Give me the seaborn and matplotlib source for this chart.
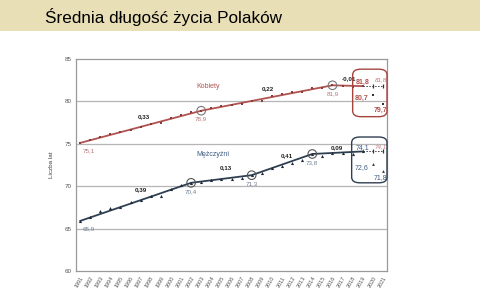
import matplotlib
matplotlib.use("Agg")
import matplotlib.pyplot as plt
import seaborn as sns
import pandas as pd
from matplotlib.patches import FancyBboxPatch, Rectangle

sns.set_style("white")
plt.rcParams['font.family'] = ['Liberation Sans', 'DejaVu Sans']

title = "Średnia długość życia Polaków"
years = list(range(1991, 2020))
women = [75.1, 75.4, 75.8, 76.1, 76.4, 76.6, 77.0, 77.3, 77.5, 78.0, 78.4, 78.8, 78.9,
         79.2, 79.4, 79.6, 79.7, 80.0, 80.1, 80.6, 80.9, 81.1, 81.1, 81.6, 81.6, 81.9,
         81.8, 81.7, 81.8]
men = [65.9, 66.4, 67.1, 67.4, 67.6, 68.1, 68.4, 68.8, 68.8, 69.7, 70.2, 70.4, 70.5,
       70.7, 70.8, 70.9, 71.0, 71.3, 71.5, 72.1, 72.4, 72.7, 73.1, 73.8, 73.6, 73.9,
       73.9, 73.8, 74.1]
women_key_years = [1991, 2003, 2016, 2019]
women_key_vals = [75.1, 78.9, 81.9, 81.8]
men_key_years = [1991, 2002, 2008, 2014, 2019]
men_key_vals = [65.9, 70.4, 71.3, 73.8, 74.1]
women_trend = ["0,33", "0,22", "-0,01"]
men_trend = ["0,39", "0,13", "0,41", "0,09"]
proj_years = [2020, 2021]
women_proj = [80.7, 79.7]
men_proj = [72.6, 71.8]
women_base = 81.8
men_base = 74.1
xticks = list(range(1991, 2022))
yticks = [60, 65, 70, 75, 80, 85]

wc = "#b0524f"
mc = "#2f3f52"
wl = "#b87472"
ml = "#6f7f92"

fig = plt.figure(figsize=(4.8, 3.0), dpi=100)
fig.patches.append(Rectangle((0, 1 - 31/300), 1, 31/300, transform=fig.transFigure,
                             facecolor="#e8dfb6", edgecolor="none", zorder=0))
fig.text(45/480, 1 - 17/300, title, fontsize=12.3, color="black", va="center", ha="left")

ax = fig.add_axes([76/480, 1 - 271/300, 311/480, 212/300])

dfw = pd.DataFrame({"year": years, "val": women})
dfm = pd.DataFrame({"year": years, "val": men})
dkw = pd.DataFrame({"year": women_key_years, "val": women_key_vals})
dkm = pd.DataFrame({"year": men_key_years, "val": men_key_vals})

sns.lineplot(data=dkw, x="year", y="val", ax=ax, color=wc, lw=1.3, zorder=3)
sns.lineplot(data=dkm, x="year", y="val", ax=ax, color=mc, lw=1.3, zorder=3)
sns.scatterplot(data=dfw, x="year", y="val", ax=ax, color="#8a3a38", marker="s", s=3,
                linewidth=0, zorder=4)
sns.scatterplot(data=dfm, x="year", y="val", ax=ax, color="#1f2a38", marker="^", s=5,
                linewidth=0, zorder=4)

for yv, vv in zip(women_key_years[1:3], women_key_vals[1:3]):
    ax.scatter([yv], [vv], s=38, facecolor="none", edgecolor="#777777", lw=0.8, zorder=5)
for yv, vv in zip(men_key_years[1:4], men_key_vals[1:4]):
    ax.scatter([yv], [vv], s=38, facecolor="none", edgecolor="#555555", lw=0.8, zorder=5)

ax.text(1991.3, 75.1 - 0.9, "75,1", fontsize=4.5, color=wl, ha="left", va="center")
ax.text(2003, 78.9 - 1.0, "78,9", fontsize=4.5, color=wl, ha="center", va="center")
ax.text(2016, 81.9 - 1.0, "81,9", fontsize=4.5, color=wl, ha="center", va="center")
ax.text(1991.3, 65.0, "65,9", fontsize=4.5, color=ml, ha="left", va="center")
ax.text(2002, 70.4 - 1.0, "70,4", fontsize=4.5, color=ml, ha="center", va="center")
ax.text(2008, 71.3 - 1.0, "71,3", fontsize=4.5, color=ml, ha="center", va="center")
ax.text(2014, 73.8 - 1.0, "73,8", fontsize=4.5, color=ml, ha="center", va="center")

w_tpos = [(1997.3, 78.2), (2009.6, 81.5), (2017.6, 82.7)]
m_tpos = [(1997.0, 69.6), (2005.4, 72.2), (2011.5, 73.6), (2016.4, 74.6)]
for t, (px, py) in zip(women_trend, w_tpos):
    ax.text(px, py, t, fontsize=4.5, fontweight="bold", color="#222222", ha="center", va="center")
for t, (px, py) in zip(men_trend, m_tpos):
    ax.text(px, py, t, fontsize=4.5, fontweight="bold", color="#222222", ha="center", va="center")

ax.text(2003.7, 81.7, "Kobiety", fontsize=5, color=wc, ha="center", va="center")
ax.text(2004.2, 73.7, "Mężczyźni", fontsize=5, color="#3c5a80", ha="center", va="center")

for base, proj, mk in [(women_base, women_proj, "s"), (men_base, men_proj, "^")]:
    ax.plot([2019, 2021], [base, base], ls=(0, (1.5, 1.5)), color="#444444", lw=0.7, zorder=3)
    ax.scatter(proj_years, [base, base], marker="|", s=10, color="#333333", lw=0.9, zorder=4)
    ax.scatter(proj_years, proj, marker=mk, s=4, color="#333333", linewidth=0, zorder=4)

ax.text(2019, 81.8 + 0.5, "81,8", fontsize=5, fontweight="bold", color=wc, ha="center", va="center", zorder=7)
ax.text(2020.8, 81.8 + 0.7, "81,8", fontsize=4.5, style="italic", color="#d07a78", ha="center", va="center", zorder=7)
ax.text(2018.9, 80.4, "80,7", fontsize=5, fontweight="bold", color=wc, ha="center", va="center", zorder=7)
ax.text(2020.8, 78.9, "79,7", fontsize=5, fontweight="bold", color=wc, ha="center", va="center", zorder=7)
ax.text(2019.0, 74.1 + 0.5, "74,1", fontsize=5, color="#3c5a80", ha="center", va="center", zorder=7)
ax.text(2020.8, 74.1 + 0.6, "74,1", fontsize=4.5, style="italic", color="#d07a78", ha="center", va="center", zorder=7)
ax.text(2018.9, 72.2, "72,6", fontsize=5, color="#3c5a80", ha="center", va="center", zorder=7)
ax.text(2020.8, 71.0, "71,8", fontsize=5, color="#3c5a80", ha="center", va="center", zorder=7)

ax.add_patch(FancyBboxPatch((2018.0, 78.2), 3.4, 5.6, boxstyle="round,pad=0,rounding_size=0.8",
                            mutation_aspect=1.0/1.2,
                            facecolor="none", edgecolor="#a5443f", lw=1.0, zorder=6, clip_on=False))
ax.add_patch(FancyBboxPatch((2017.9, 70.4), 3.5, 5.4, boxstyle="round,pad=0,rounding_size=0.8",
                            mutation_aspect=1.0/1.2,
                            facecolor="none", edgecolor="#2f3f52", lw=1.0, zorder=6, clip_on=False))

ax.set_xlim(1990.6, 2021.4)
ax.set_ylim(60, 85)
ax.set_xticks(xticks)
ax.set_xticklabels([str(x) for x in xticks], rotation=60, fontsize=4, color="#555555",
                   ha="right", rotation_mode="anchor")
ax.set_yticks(yticks)
ax.set_yticklabels([str(y) for y in yticks], fontsize=4.5, color="#555555")
ax.set_xlabel("")
ax.set_ylabel("Liczba lat", fontsize=4.5, color="#444444", labelpad=8)
ax.tick_params(axis="both", length=0, pad=3)
for yv in [65, 70, 75, 80]:
    ax.axhline(yv, color="#b5b5b5", lw=0.9, zorder=1)
for s in ax.spines.values():
    s.set_color("#999999")
    s.set_linewidth(0.9)

fig.savefig("out.png", dpi=100)
